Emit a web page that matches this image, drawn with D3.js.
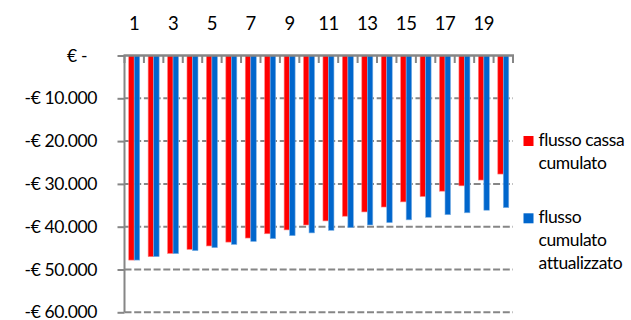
<!DOCTYPE html>
<html>
<head>
<meta charset="utf-8">
<script src="https://cdn.jsdelivr.net/npm/d3@7"></script>
<style>
  html, body { margin: 0; padding: 0; background: #fff; }
  svg { display: block; font-family: Lato, "Noto Sans", sans-serif; }
  svg text { letter-spacing: -0.4px; }
</style>
</head>
<body>
<svg id="chart" width="631" height="320"></svg>
<script>
// Years 1..20
const years = d3.range(1, 21);
// Cumulative cash flow (EUR)
const flussoCassa = [-47800, -47000, -46250, -45300, -44500, -43600, -42650, -41650, -40750, -39600,
                     -38650, -37550, -36550, -35400, -34200, -32950, -31700, -30450, -29100, -27700];
// Cumulative discounted cash flow (EUR)
const flussoAttualizzato = [-47800, -47000, -46300, -45600, -44900, -44150, -43450, -42800, -42100, -41450,
                            -40850, -40200, -39600, -39050, -38400, -37800, -37200, -36750, -36150, -35550];
const seriesNames = ["flusso cassa cumulato", "flusso cumulato attualizzato"];
const legendLines = [["flusso cassa", "cumulato"], ["flusso", "cumulato", "attualizzato"]];
const colors = ["#ff0000", "#0066cc"];
const yTicks = [0, -10000, -20000, -30000, -40000, -50000, -60000];
const yTickLabels = ["€ -", "-€ 10.000", "-€ 20.000", "-€ 30.000", "-€ 40.000", "-€ 50.000", "-€ 60.000"];
const xLabelYears = [1, 3, 5, 7, 9, 11, 13, 15, 17, 19];

const svg = d3.select("#chart");
const plotLeft = 124.5, plotRight = 513, plotTop = 55.5, plotBottom = 312.3;
const fontSize = 17.5;
const axisColor = "#868686";

const x = d3.scaleBand().domain(years).range([plotLeft, plotRight]).padding(0);
const groupW = 11;
const x1 = d3.scaleBand().domain([0, 1]).range([0, groupW]).padding(0);
const y = d3.scaleLinear().domain([0, -60000]).range([plotTop, plotBottom]);

// Dashed horizontal gridlines
svg.append("g").selectAll("line")
  .data(yTicks.filter(d => d !== 0))
  .join("line")
  .attr("x1", plotLeft).attr("x2", plotRight)
  .attr("y1", d => y(d)).attr("y2", d => y(d))
  .attr("stroke", axisColor).attr("stroke-width", 2)
  .attr("stroke-dasharray", "7,2.7");

// Bars
const groups = svg.append("g").selectAll("g")
  .data(years.map((yr, i) => ({ yr, vals: [flussoCassa[i], flussoAttualizzato[i]] })))
  .join("g")
  .attr("transform", d => `translate(${x(d.yr) + (x.bandwidth() - groupW) / 2},0)`);

groups.selectAll("rect")
  .data(d => d.vals.map((v, s) => ({ v, s })))
  .join("rect")
  .attr("x", d => x1(d.s))
  .attr("width", x1.bandwidth())
  .attr("y", y(0))
  .attr("height", d => y(d.v) - y(0))
  .attr("fill", d => colors[d.s])
  .attr("stroke", d => d.s === 0 ? "#ff8080" : "#7fb2e5")
  .attr("stroke-width", 0.6);

// Y axis (left)
const yAxis = d3.axisLeft(y)
  .tickValues(yTicks)
  .tickSize(7)
  .tickPadding(20.5)
  .tickFormat((d, i) => yTickLabels[i]);
const gy = svg.append("g").attr("transform", `translate(${plotLeft},0)`).call(yAxis);
gy.select(".domain").attr("stroke", axisColor).attr("stroke-width", 2)
  .attr("d", `M0,${plotTop}V${plotBottom}`);
gy.selectAll(".tick line").attr("stroke", axisColor).attr("stroke-width", 2);
gy.selectAll(".tick text")
  .attr("font-size", fontSize)
  .attr("font-family", "Lato, 'Noto Sans', sans-serif")
  .attr("fill", "#000")
  .attr("dx", d => d === 0 ? -10 : 0);

// Category axis along the zero line, labels above
const xAxis = d3.axisTop(x)
  .tickSize(0)
  .tickPadding(25.5)
  .tickFormat(d => xLabelYears.includes(d) ? String(d) : "");
const gx = svg.append("g").attr("transform", `translate(0,${plotTop})`).call(xAxis);
gx.select(".domain").remove();
gx.selectAll(".tick text")
  .attr("font-size", 18.5)
  .attr("font-family", "Lato, 'Noto Sans', sans-serif")
  .attr("fill", "#000");

// Tick marks at category boundaries, pointing into the plot
const boundaries = years.map(d => x(d)).concat([plotRight]);
svg.append("g").selectAll("line")
  .data(boundaries)
  .join("line")
  .attr("x1", d => d).attr("x2", d => d)
  .attr("y1", plotTop).attr("y2", plotTop + 7.5)
  .attr("stroke", axisColor).attr("stroke-width", 2);

svg.append("line")
  .attr("x1", plotLeft - 1).attr("x2", plotRight + 1)
  .attr("y1", plotTop).attr("y2", plotTop)
  .attr("stroke", axisColor).attr("stroke-width", 2.4);

// Legend
const legendX = 523.5, legendTextX = 538.5;
const legendBaselines = [[146, 169], [223.3, 246, 269]];
const lg = svg.append("g").selectAll("g")
  .data(seriesNames.map((name, i) => ({ name, i })))
  .join("g");
lg.append("rect")
  .attr("x", legendX)
  .attr("y", d => legendBaselines[d.i][0] - 10)
  .attr("width", 10).attr("height", 10)
  .attr("fill", d => colors[d.i]);
lg.each(function (d) {
  d3.select(this).selectAll("text")
    .data(legendLines[d.i])
    .join("text")
    .attr("x", legendTextX)
    .attr("y", (t, k) => legendBaselines[d.i][k])
    .attr("font-size", fontSize)
    .attr("fill", "#000")
    .text(t => t);
});
</script>
</body>
</html>
